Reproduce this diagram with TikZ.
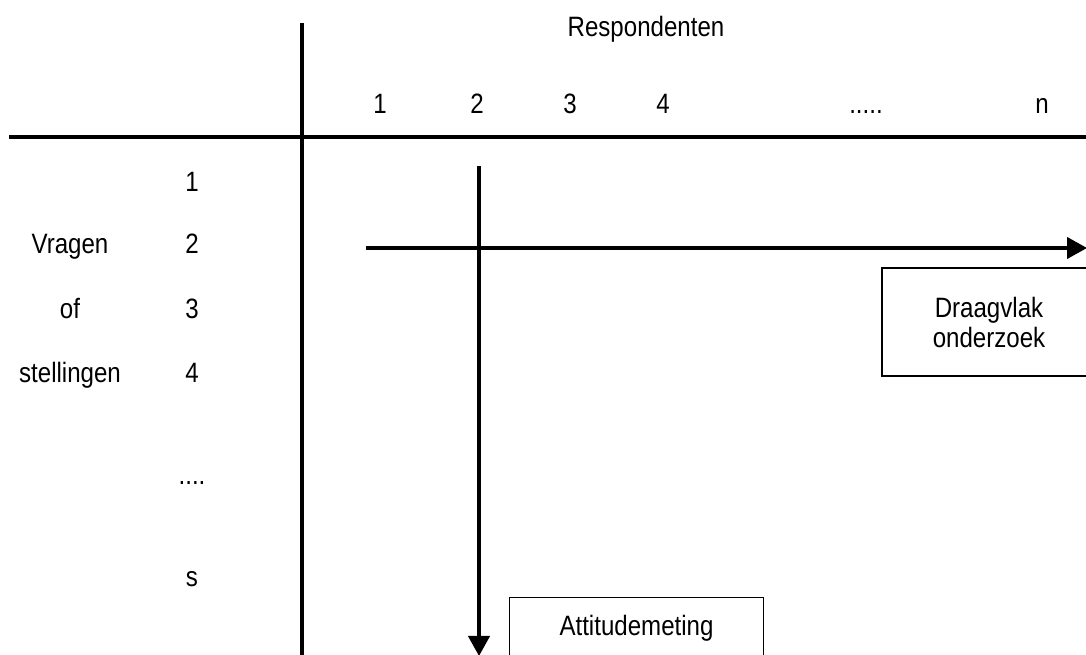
\documentclass[tikz,border=0pt]{standalone}
\usepackage{fontspec}
\setmainfont{Liberation Sans}[FakeStretch=0.86]
\usetikzlibrary{arrows.meta, positioning}

\begin{document}
\begin{tikzpicture}[x=0.75pt, y=-0.75pt,
  every node/.style={inner sep=0pt, font=\fontsize{21}{22.5}\selectfont},
  lbl/.style={anchor=base},
  labelbox/.style={draw, line width=0.9pt, align=center},
  axis/.style={line width=3pt},
  flow/.style={line width=2.3pt, -{Triangle[length=15pt, width=16pt]}}]
\useasboundingbox (0,0) rectangle (1086,655);

% Axes
\coordinate (hleft) at (9,137);
\coordinate (hright) at (1086,137);
\coordinate (vtop) at (302,23);
\coordinate (vbottom) at (302,655);
\draw[axis] (hleft) -- (hright);
\draw[axis] (vtop) -- (vbottom);

% Respondenten
\node[lbl] (resp) at (646,37) {Respondenten};
\node[lbl] (c1) at (380,114) {1};
\node[lbl] (c2) at (477,114) {2};
\node[lbl] (c3) at (570,114) {3};
\node[lbl] (c4) at (663,114) {4};
\node[lbl] (cdots) at (866,114) {.....};
\node[lbl] (cn) at (1042,114) {n};

% Vragen of stellingen
\node[lbl] (r1) at (192,192) {1};
\node[lbl] (r2) at (192,254) {2};
\node[lbl] (r3) at (192,319) {3};
\node[lbl] (r4) at (192,383) {4};
\node[lbl] (rdots) at (192,485) {....};
\node[lbl] (rs) at (192,587) {s};
\node[lbl] (vragen) at (70,254) {Vragen};
\node[lbl] (of) at (70,319) {of};
\node[lbl] (stellingen) at (70,383) {stellingen};

% Arrows
\coordinate (hstart) at (366,248);
\coordinate (hend) at (1087,248);
\coordinate (vstart) at (479,166);
\coordinate (vend) at (479,656);
\draw[flow] (hstart) -- (hend);
\draw[flow] (vstart) -- (vend);

% Boxes
\node[labelbox, minimum width=160.5pt, minimum height=81pt] (draagvlak) at (989,322) {Draagvlak\\onderzoek};
\node[labelbox, minimum width=190pt, minimum height=47pt] (attitude) at (636.5,628.5) {Attitudemeting};
\end{tikzpicture}
\end{document}
